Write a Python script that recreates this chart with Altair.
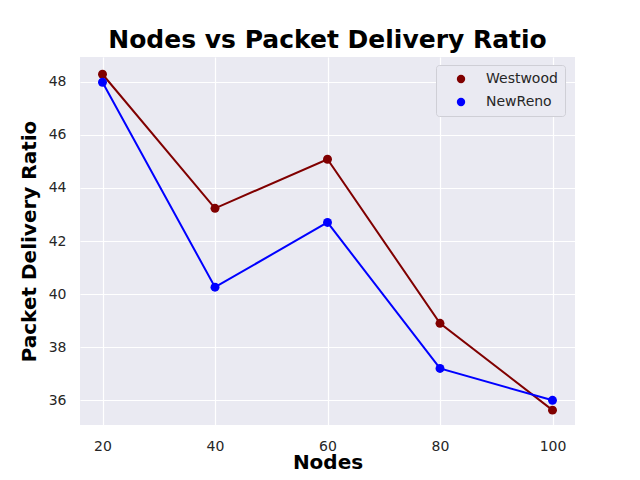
import altair as alt
import pandas as pd

nodes = [20, 40, 60, 80, 100]
westwood = [48.28, 43.23, 45.08, 38.90, 35.63]
newreno = [47.98, 40.26, 42.70, 37.20, 36.00]
series_names = ["Westwood", "NewReno"]
series_colors = ["#800000", "#0000ff"]

rows = []
for n, w, r in zip(nodes, westwood, newreno):
    rows.append({"Nodes": n, "PDR": w, "Protocol": "Westwood"})
    rows.append({"Nodes": n, "PDR": r, "Protocol": "NewReno"})
df = pd.DataFrame(rows)

FONT = "DejaVu Sans"

x = alt.X("Nodes:Q", scale=alt.Scale(domain=[16, 104], nice=False, zero=False),
          axis=alt.Axis(values=nodes, title="Nodes", format="d",
                        titleBaseline="alphabetic", titleY=43))
y = alt.Y("PDR:Q", scale=alt.Scale(domain=[35.07, 48.93], nice=False, zero=False),
          axis=alt.Axis(values=[36, 38, 40, 42, 44, 46, 48], title="Packet Delivery Ratio"))
color = alt.Color("Protocol:N",
                  scale=alt.Scale(domain=series_names, range=series_colors),
                  legend=alt.Legend(title=None, orient="none", legendX=356, legendY=8,
                                    symbolType="circle", symbolFillColor=None,
                                    symbolSize=70, symbolStrokeWidth=0,
                                    labelFontSize=14, labelFont=FONT, labelColor="#262626",
                                    padding=7, symbolOffset=11, labelOffset=18,
                                    rowPadding=9, fillColor="#eaeaf2",
                                    strokeColor="#cfcfd6", cornerRadius=3))

base = alt.Chart(df).encode(x=x, y=y, color=color, detail="Protocol:N")
lines = base.mark_line(strokeWidth=2)
points = base.mark_circle(size=80, opacity=1)

chart = (lines + points).properties(
    width=495, height=368,
    title=alt.TitleParams("Nodes vs Packet Delivery Ratio", font=FONT, fontSize=25,
                          fontWeight="bold", color="black", anchor="middle",
                          baseline="alphabetic", offset=10, dy=26),
    autosize=alt.AutoSizeParams(type="none"),
    padding={"left": 72, "top": 49, "right": 57, "bottom": 47},
).configure_view(fill="#eaeaf2", stroke=None).configure_axis(
    grid=True, gridColor="white", gridWidth=1.2, domain=False, ticks=False, tickSize=0,
    labelFont=FONT, labelFontSize=14, labelColor="#262626",
    titleFont=FONT, titleFontSize=20, titleFontWeight="bold", titleColor="black",
).configure_axisX(labelPadding=14).configure_axisY(
    labelPadding=14, titlePadding=9)

chart.save("out.html", embed_options={"renderer": "svg", "actions": False})
